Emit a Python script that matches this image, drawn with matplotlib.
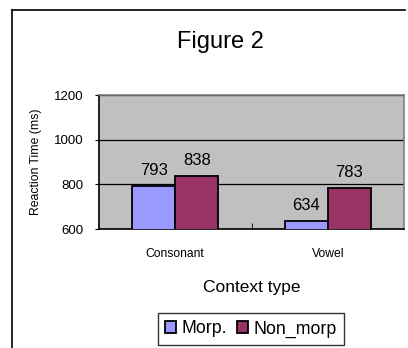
import matplotlib
matplotlib.use("Agg")
import matplotlib.pyplot as plt
from matplotlib.lines import Line2D
import numpy as np

plt.rcParams["font.family"] = ["Liberation Sans", "DejaVu Sans"]

categories = ["Consonant", "Vowel"]
morp = [793, 634]
non_morp = [838, 783]
series_names = ["Morp.", "Non_morp"]
yticks = [600, 800, 1000, 1200]

W, H = 408, 348
fig = plt.figure(figsize=(W / 100, H / 100), dpi=100)
fig.patch.set_facecolor("white")

# outer chart frame (left and top edges)
fig.add_artist(Line2D([12 / W, 12 / W], [0, 1 - 10 / H], transform=fig.transFigure,
                      color="black", lw=1.2))
fig.add_artist(Line2D([12 / W, 405 / W], [1 - 10 / H, 1 - 10 / H], transform=fig.transFigure,
                      color="black", lw=1.2))

left, right, top, bottom = 99, 404, 95, 229
ax = fig.add_axes([left / W, 1 - bottom / H, (right - left) / W, (bottom - top) / H])
ax.set_facecolor("#C0C0C0")

x = np.arange(len(categories))
bw = 0.283
b1 = ax.bar(x - bw / 2, morp, bw, color="#9999FF", edgecolor="black", lw=1.3, zorder=3,
            label=series_names[0])
b2 = ax.bar(x + bw / 2, non_morp, bw, color="#993366", edgecolor="black", lw=1.3, zorder=3,
            label=series_names[1])

for bars, vals in ((b1, morp), (b2, non_morp)):
    for r, v in zip(bars, vals):
        ax.text(r.get_x() + r.get_width() / 2, v + 36, str(v), ha="center", va="bottom",
                fontsize=12, zorder=4)

ax.set_xlim(-0.5, len(categories) - 0.5)
ax.set_ylim(600, 1200)
ax.set_yticks(yticks)
ax.set_yticklabels([str(t) for t in yticks], fontsize=9.5)
ax.yaxis.grid(True, color="black", lw=0.9, zorder=1)
ax.set_axisbelow(True)

ax.set_xticks(x)
ax.set_xticklabels(categories, fontsize=8.7)
ax.tick_params(axis="x", length=0, pad=14)
ax.set_xticks([0.5], minor=True)
ax.tick_params(axis="x", which="minor", direction="in", length=4, color="black")
ax.tick_params(axis="y", length=3, pad=8, direction="out")

for s in ("top", "right"):
    ax.spines[s].set_color("#808080")
    ax.spines[s].set_linewidth(1.2)
for s in ("left", "bottom"):
    ax.spines[s].set_color("black")
    ax.spines[s].set_linewidth(1.2)

ax.set_ylabel("Reaction Time (ms)", fontsize=8.8, labelpad=9)
ax.set_xlabel("Context type", fontsize=12.5, labelpad=14)

fig.text(220 / W, 1 - 42 / H, "Figure 2", ha="center", va="center", fontsize=17)

leg = fig.legend(handles=[b1, b2], loc="center", bbox_to_anchor=(251 / W, 1 - 329 / H),
                 ncol=2, fontsize=12.8, frameon=True, fancybox=False, edgecolor="black",
                 handlelength=0.6, handleheight=0.6, handletextpad=0.3, columnspacing=0.6,
                 borderpad=0.4, borderaxespad=0)
leg.get_frame().set_linewidth(1.0)

fig.savefig("out.png", dpi=100)
